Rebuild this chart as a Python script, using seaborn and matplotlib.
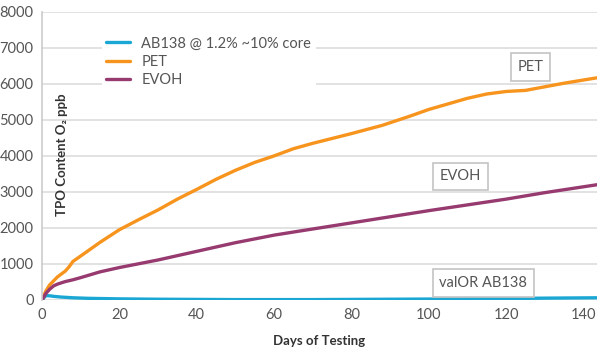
import numpy as np
import pandas as pd
import matplotlib
matplotlib.use("Agg")
import matplotlib.pyplot as plt
import seaborn as sns

# values
days_pet = [0, 1, 2, 4, 5, 6, 7, 8, 10, 15, 20, 25, 30, 35, 40, 45, 50, 55, 60, 65, 70,
            80, 88, 95, 100, 110, 115, 120, 125, 130, 135, 143.5]
pet = [0, 250, 420, 640, 720, 800, 920, 1070, 1220, 1600, 1950, 2230, 2500, 2800, 3070,
       3350, 3600, 3820, 4000, 4200, 4350, 4620, 4850, 5100, 5290, 5600, 5720, 5790, 5820,
       5920, 6020, 6170]

days_evoh = [0, 1, 2, 3, 4, 6, 8, 10, 15, 20, 30, 40, 50, 60, 67, 80, 90, 100, 110, 120,
             130, 143.5]
evoh = [0, 180, 300, 390, 440, 510, 560, 620, 780, 900, 1110, 1350, 1590, 1800, 1920, 2140,
        2310, 2480, 2640, 2800, 2980, 3200]

days_ab = [0, 1, 2, 3, 5, 8, 12, 20, 30, 40, 50, 60, 70, 80, 90, 100, 110, 120, 130, 143.5]
ab138 = [0, 120, 115, 100, 80, 60, 45, 30, 20, 15, 10, 10, 10, 15, 20, 25, 30, 40, 50, 60]

series_names = ["AB138 @ 1.2% ~10% core", "PET", "EVOH"]
series_colors = ["#1aa7d4", "#f7941d", "#973a70"]

df = pd.concat([
    pd.DataFrame({"day": days_ab, "tpo": ab138, "series": series_names[0]}),
    pd.DataFrame({"day": days_pet, "tpo": pet, "series": series_names[1]}),
    pd.DataFrame({"day": days_evoh, "tpo": evoh, "series": series_names[2]}),
])

sns.set_style("white")
plt.rcParams["font.family"] = ["Lato", "DejaVu Sans"]

fig = plt.figure(figsize=(6, 3.5), dpi=100)
ax = fig.add_axes([0.07, 0.143, 0.925, 0.823])

sns.lineplot(ax=ax, data=df, x="day", y="tpo", hue="series", hue_order=series_names,
             palette=series_colors, linewidth=2.4, estimator=None, sort=True)

ax.set_xlim(0, 143.5)
ax.set_ylim(0, 8000)
ax.set_xticks(range(0, 141, 20))
ax.set_yticks(range(0, 8001, 1000))
ax.grid(axis="y", color="#dddddd", linewidth=1.2)
ax.set_axisbelow(True)
for s in ["top", "right", "bottom"]:
    ax.spines[s].set_visible(False)
ax.spines["left"].set_color("#cccccc")
ax.spines["left"].set_linewidth(1.2)
ax.tick_params(length=0, labelsize=10.5, labelcolor="#555555", pad=6)

ax.set_xlabel("Days of Testing", fontsize=9.5, fontweight="bold", color="#333333", labelpad=9)
ax.set_ylabel("")
ax.text(5.2, 4030, "TPO Content O₂ ppb", rotation=90, ha="center", va="center",
        fontsize=9.5, fontweight="bold", color="#333333")

leg = ax.legend(loc="upper left", bbox_to_anchor=(0.095, 0.955), frameon=True,
                fontsize=10.5, handlelength=1.6, labelspacing=0.3, borderpad=0.3)
leg.get_frame().set_edgecolor("none")
leg.get_frame().set_facecolor("white")
leg.get_frame().set_alpha(1)
for t in leg.get_texts():
    t.set_color("#555555")

box = dict(boxstyle="square,pad=0.45", fc="white", ec="#c4c4c4", lw=1.2)
ax.text(126.3, 6470, "PET", ha="center", va="center", fontsize=10.5, color="#555555", bbox=box)
ax.text(108.2, 3440, "EVOH", ha="center", va="center", fontsize=10.5, color="#555555", bbox=box)
ax.text(114.1, 470, "valOR AB138", ha="center", va="center", fontsize=10.5, color="#555555", bbox=box)

fig.savefig("out.png", dpi=100)
